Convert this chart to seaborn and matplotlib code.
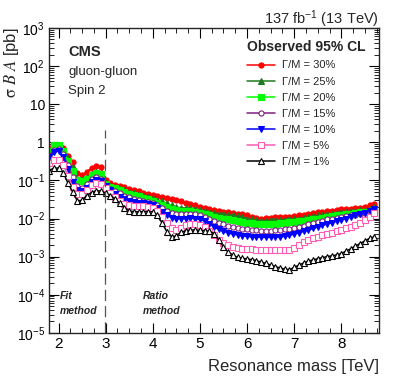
import numpy as np
import pandas as pd
import seaborn as sns
import matplotlib.pyplot as plt
from matplotlib.ticker import MultipleLocator, LogLocator, NullFormatter

# Resonance mass points [TeV]
mass = [round(1.8 + 0.1 * i, 1) for i in range(70)]

# Observed 95% CL limits [pb], one list per width hypothesis
limit_30 = [0.70, 0.80, 0.82, 0.70, 0.45, 0.30, 0.16, 0.14, 0.17, 0.21,
            0.24, 0.22, 0.10, 0.085, 0.078, 0.072, 0.066, 0.061, 0.056, 0.052,
            0.048, 0.045, 0.042, 0.039, 0.036, 0.034, 0.032, 0.030, 0.028, 0.026,
            0.024, 0.022, 0.020, 0.019, 0.018, 0.017, 0.016, 0.015, 0.0145, 0.014,
            0.0135, 0.013, 0.012, 0.011, 0.0105, 0.0100, 0.0102, 0.0105, 0.0107, 0.011,
            0.011, 0.0112, 0.0115, 0.012, 0.0125, 0.013, 0.014, 0.0145, 0.015, 0.0155,
            0.016, 0.017, 0.0175, 0.018, 0.018, 0.0185, 0.019, 0.020, 0.022, 0.024]
limit_25 = [0.62, 0.78, 0.80, 0.62, 0.38, 0.22, 0.11, 0.10, 0.12, 0.15,
            0.17, 0.16, 0.085, 0.072, 0.066, 0.060, 0.055, 0.050, 0.046, 0.043,
            0.040, 0.037, 0.034, 0.031, 0.028, 0.025, 0.022, 0.020, 0.019, 0.019,
            0.019, 0.018, 0.017, 0.016, 0.015, 0.014, 0.0135, 0.013, 0.0125, 0.012,
            0.0115, 0.011, 0.010, 0.0095, 0.0090, 0.0088, 0.0088, 0.0089, 0.009, 0.0092,
            0.0094, 0.0096, 0.0098, 0.010, 0.0105, 0.011, 0.0115, 0.012, 0.0125, 0.013,
            0.0135, 0.014, 0.0145, 0.015, 0.0155, 0.016, 0.0165, 0.017, 0.018, 0.020]
limit_20 = [0.60, 0.85, 0.85, 0.60, 0.32, 0.18, 0.10, 0.095, 0.11, 0.14,
            0.16, 0.15, 0.080, 0.068, 0.062, 0.056, 0.050, 0.045, 0.041, 0.038,
            0.035, 0.032, 0.029, 0.026, 0.023, 0.020, 0.018, 0.017, 0.016, 0.016,
            0.016, 0.015, 0.014, 0.013, 0.012, 0.011, 0.0105, 0.010, 0.0095, 0.009,
            0.0085, 0.008, 0.0077, 0.0074, 0.0072, 0.0071, 0.0071, 0.0072, 0.0073, 0.0075,
            0.0077, 0.0079, 0.0081, 0.0084, 0.0088, 0.0092, 0.0097, 0.010, 0.0105, 0.011,
            0.0115, 0.012, 0.0125, 0.013, 0.0135, 0.014, 0.0145, 0.015, 0.016, 0.018]
limit_15 = [0.45, 0.62, 0.65, 0.48, 0.25, 0.12, 0.070, 0.065, 0.080, 0.11,
            0.12, 0.11, 0.072, 0.060, 0.052, 0.046, 0.040, 0.036, 0.033, 0.031,
            0.029, 0.027, 0.025, 0.022, 0.019, 0.016, 0.014, 0.013, 0.013, 0.0135,
            0.0135, 0.013, 0.012, 0.011, 0.010, 0.0088, 0.0078, 0.0070, 0.0064, 0.006,
            0.0057, 0.0054, 0.0052, 0.0050, 0.0049, 0.0048, 0.0048, 0.0048, 0.0049, 0.005,
            0.0052, 0.0054, 0.0057, 0.006, 0.0065, 0.007, 0.0076, 0.0082, 0.0088, 0.0095,
            0.010, 0.0105, 0.011, 0.0115, 0.012, 0.0125, 0.013, 0.014, 0.015, 0.017]
limit_10 = [0.40, 0.55, 0.60, 0.42, 0.20, 0.09, 0.055, 0.052, 0.065, 0.09,
            0.10, 0.095, 0.070, 0.055, 0.045, 0.037, 0.032, 0.029, 0.027, 0.026,
            0.025, 0.024, 0.022, 0.019, 0.015, 0.012, 0.0105, 0.0098, 0.0098, 0.010,
            0.0102, 0.010, 0.0095, 0.0085, 0.0072, 0.0060, 0.0052, 0.0046, 0.0042, 0.0039,
            0.0037, 0.0035, 0.0034, 0.0033, 0.0033, 0.0032, 0.0032, 0.0032, 0.0032, 0.0033,
            0.0034, 0.0036, 0.0039, 0.0042, 0.0046, 0.005, 0.0055, 0.006, 0.0066, 0.0072,
            0.0078, 0.0085, 0.0092, 0.010, 0.011, 0.012, 0.013, 0.014, 0.016, 0.018]
limit_5 = [0.28, 0.34, 0.35, 0.26, 0.13, 0.068, 0.045, 0.044, 0.055, 0.075,
           0.085, 0.080, 0.065, 0.048, 0.036, 0.028, 0.024, 0.022, 0.021, 0.021,
           0.021, 0.020, 0.019, 0.016, 0.011, 0.0075, 0.0055, 0.0050, 0.0058, 0.0068,
           0.0072, 0.0072, 0.0068, 0.0060, 0.0048, 0.0036, 0.0028, 0.0023, 0.0020, 0.0018,
           0.0017, 0.0016, 0.0016, 0.0016, 0.0015, 0.0015, 0.0015, 0.0015, 0.0015, 0.0015,
           0.0015, 0.0015, 0.0017, 0.0020, 0.0024, 0.0027, 0.003, 0.0033, 0.0036, 0.0039,
           0.0042, 0.0046, 0.005, 0.0055, 0.006, 0.0068, 0.0078, 0.009, 0.011, 0.014]
limit_1 = [0.18, 0.21, 0.21, 0.16, 0.085, 0.050, 0.029, 0.030, 0.040, 0.048,
           0.054, 0.052, 0.046, 0.040, 0.033, 0.025, 0.019, 0.016, 0.015, 0.015,
           0.015, 0.015, 0.015, 0.012, 0.0075, 0.0045, 0.0033, 0.0035, 0.0043, 0.0048,
           0.0050, 0.0050, 0.0049, 0.0048, 0.0046, 0.0040, 0.0027, 0.0018, 0.0013, 0.0011,
           0.00095, 0.0009, 0.00087, 0.00083, 0.00078, 0.00072, 0.00066, 0.0006, 0.00055, 0.0005,
           0.00047, 0.00045, 0.00052, 0.0006, 0.00068, 0.00076, 0.00082, 0.00088, 0.00094, 0.001,
           0.00105, 0.0011, 0.0012, 0.0014, 0.0016, 0.0019, 0.0022, 0.0026, 0.003, 0.0033]

labels = ["Γ/M = 30%", "Γ/M = 25%", "Γ/M = 20%", "Γ/M = 15%",
          "Γ/M = 10%", "Γ/M = 5%", "Γ/M = 1%"]
limits = [limit_30, limit_25, limit_20, limit_15, limit_10, limit_5, limit_1]

# colour, marker, filled
styles = [("#ff0000", "o", True),
          ("#1f7a1f", "^", True),
          ("#00ff00", "s", True),
          ("#802080", "o", False),
          ("#0000ff", "v", True),
          ("#ff5cb4", "s", False),
          ("#000000", "^", False)]

sns.set_style("ticks")
plt.rcParams["font.family"] = ["Liberation Sans", "DejaVu Sans"]
plt.rcParams["mathtext.fontset"] = "custom"
plt.rcParams["mathtext.rm"] = "Liberation Sans"
plt.rcParams["mathtext.it"] = "Liberation Sans:italic"
plt.rcParams["mathtext.bf"] = "Liberation Sans:bold"

fig = plt.figure(figsize=(3.99, 3.83), dpi=100)
ax = fig.add_axes([0.123, 0.131, 0.827, 0.796])

for lab, vals, (col, mk, filled) in zip(labels, limits, styles):
    df = pd.DataFrame({"mass": mass, "limit": vals})
    sns.lineplot(data=df, x="mass", y="limit", ax=ax, estimator=None,
                 color=col, linewidth=1.1, marker=mk, markersize=3.7,
                 markerfacecolor=col if filled else "white",
                 markeredgecolor=col, markeredgewidth=0.8, label=lab)

ax.set_yscale("log")
ax.set_xlim(1.8, 8.8)
ax.set_ylim(1e-5, 1e3)

# boundary between fit and ratio methods
ax.plot([2.98, 2.98], [1e-5, 2.1], color="#555555", lw=0.9, dashes=(9, 4))

# axes cosmetics (ROOT-like)
for s in ax.spines.values():
    s.set_linewidth(1.0)
ax.xaxis.set_major_locator(MultipleLocator(1))
ax.xaxis.set_minor_locator(MultipleLocator(0.25))
ax.yaxis.set_minor_locator(LogLocator(base=10, subs=np.arange(2, 10), numticks=20))
ax.yaxis.set_minor_formatter(NullFormatter())
ytick_vals = [1e-5, 1e-4, 1e-3, 1e-2, 1e-1, 1, 10, 1e2, 1e3]
ytick_txt = ["$10^{-5}$", "$10^{-4}$", "$10^{-3}$", "$10^{-2}$", "$10^{-1}$",
             "1", "10", "$10^{2}$", "$10^{3}$"]
ax.set_yticks(ytick_vals)
ax.set_yticklabels(ytick_txt)
ax.set_xticks([2, 3, 4, 5, 6, 7, 8])
ax.tick_params(which="both", direction="in", top=True, right=True, colors="black")
ax.tick_params(which="major", length=7, width=0.8, labelsize=11, pad=3)
ax.tick_params(which="minor", length=3.5, width=0.6)
ax.tick_params(axis="y", labelsize=10)

ax.set_xlabel("Resonance mass [TeV]", fontsize=12, loc="right", labelpad=6)
ax.set_ylabel(r"$\mathrm{\sigma}\ B\ A$ [pb]", fontsize=12, loc="top",
              math_fontfamily="stix")
ax.yaxis.set_label_coords(-0.085, 1.0)

# annotations
ax.text(0.058, 0.945, "CMS", transform=ax.transAxes, fontsize=10.5,
        fontweight="bold", va="top")
ax.text(0.058, 0.874, "gluon-gluon", transform=ax.transAxes, fontsize=9.5, va="top")
ax.text(0.058, 0.813, "Spin 2", transform=ax.transAxes, fontsize=9.5, va="top")
ax.text(1.0, 1.013, "137 fb$^{-1}$ (13 TeV)", transform=ax.transAxes,
        fontsize=10.5, ha="right", va="baseline")
for xpos, first in [(0.033, "Fit"), (0.285, "Ratio")]:
    ax.text(xpos, 0.12, first, transform=ax.transAxes, fontsize=7.5,
            fontweight="bold", fontstyle="italic", va="center")
    ax.text(xpos, 0.073, "method", transform=ax.transAxes, fontsize=7.5,
            fontweight="bold", fontstyle="italic", va="center")

handles, hlabels = ax.get_legend_handles_labels()
leg = ax.legend(handles, hlabels, loc="upper left", bbox_to_anchor=(0.575, 0.985),
                frameon=False, fontsize=8, handlelength=2.6, handletextpad=0.6,
                labelspacing=0.55, borderpad=0.2,
                title="Observed 95% CL",
                title_fontproperties={"weight": "bold", "size": 10})
leg._legend_box.align = "left"

fig.savefig("out.png", dpi=100)
